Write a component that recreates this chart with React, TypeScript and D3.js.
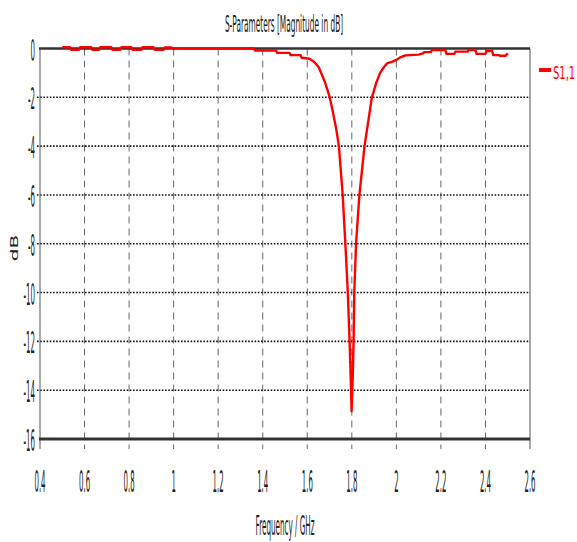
import React from "react";
import * as d3 from "d3";

const xTicks = [0.4, 0.6, 0.8, 1, 1.2, 1.4, 1.6, 1.8, 2, 2.2, 2.4, 2.6];
const yTicks = [0, -2, -4, -6, -8, -10, -12, -14, -16];

const freq = [
  0.5, 0.535, 0.54, 0.575, 0.58, 0.63, 0.635, 0.665, 0.67, 0.72, 0.725, 0.76, 0.765, 0.81,
  0.815, 0.855, 0.86, 0.91, 0.915, 0.955, 0.96, 0.99, 1.0, 1.36, 1.365, 1.46, 1.465, 1.52,
  1.525, 1.57, 1.575, 1.61, 1.63, 1.65, 1.66, 1.68, 1.7, 1.715, 1.73, 1.742, 1.759, 1.771,
  1.782, 1.79, 1.795, 1.799, 1.804, 1.808, 1.811, 1.819, 1.834, 1.857, 1.872, 1.89, 1.91,
  1.927, 1.945, 1.96, 1.98, 2.0, 2.02, 2.04, 2.1, 2.12, 2.125, 2.155, 2.16, 2.22, 2.225,
  2.26, 2.265, 2.32, 2.325, 2.355, 2.36, 2.4, 2.405, 2.43, 2.435, 2.46, 2.465, 2.49, 2.5,
];
const s11 = [
  0.05, 0.05, -0.05, -0.05, 0.05, 0.05, -0.05, -0.05, 0.05, 0.05, -0.05, -0.05, 0.05, 0.05,
  -0.05, -0.05, 0.05, 0.05, -0.05, -0.05, 0.04, 0.04, 0, 0, -0.08, -0.08, -0.18, -0.18,
  -0.27, -0.27, -0.38, -0.42, -0.54, -0.75, -0.95, -1.4, -1.97, -2.6, -3.3, -4, -6, -8,
  -10, -12, -13.5, -14.86, -13.5, -12, -10, -8, -6, -4, -3.1, -2, -1.4,
  -1.0, -0.75, -0.6, -0.55, -0.47, -0.35, -0.28, -0.25, -0.2, -0.15, -0.15, -0.06, -0.06, -0.22,
  -0.22, -0.13, -0.13, -0.06, -0.06, -0.22, -0.22, -0.1, -0.1, -0.27, -0.27, -0.3, -0.3, -0.2,
];

const W = 577;
const H = 542;
const FONT = "DejaVu Sans";

function Label({ x, y, text, sx, sy, anchor = "middle", fill = "#222", rotate = 0 }: any) {
  return (
    <text
      transform={`translate(${x},${y}) rotate(${rotate}) scale(${sx},${sy})`}
      fontSize={10}
      fontFamily={FONT}
      textAnchor={anchor}
      fill={fill}
    >
      {text}
    </text>
  );
}

export default function App() {
  const x = d3.scaleLinear().domain([0.4, 2.6]).range([40, 530]);
  const y = d3.scaleLinear().domain([0, -16]).range([48.5, 439]);
  const pts: [number, number][] = freq.map((f, i) => [f, s11[i]]);
  const line = d3
    .line<[number, number]>()
    .x((d) => x(d[0]))
    .y((d) => y(d[1]));

  return (
    <svg
      width={W}
      height={H}
      style={{ position: "absolute", left: 0, top: 0, background: "#fff" }}
    >
      <rect x={0} y={0} width={W} height={H} fill="#fff" />
      {xTicks.slice(1, -1).map((t) => (
        <line
          key={"vx" + t}
          x1={x(t)}
          x2={x(t)}
          y1={y(0)}
          y2={y(-16) + 10}
          stroke="#666"
          strokeWidth={1}
          strokeDasharray="7,5"
        />
      ))}
      {yTicks.slice(1, -1).map((t) => (
        <line
          key={"hy" + t}
          x1={37}
          x2={x(2.6)}
          y1={y(t)}
          y2={y(t)}
          stroke="#111"
          strokeWidth={1.6}
          strokeDasharray="1.6,1.6"
        />
      ))}
      <line x1={x(0.4)} x2={x(0.4)} y1={y(0)} y2={y(-16) + 10} stroke="#555" strokeWidth={1} />
      <line x1={x(2.6)} x2={x(2.6)} y1={y(0)} y2={y(-16) + 10} stroke="#555" strokeWidth={1} />
      <line x1={x(0.4) - 1} x2={x(2.6)} y1={y(0)} y2={y(0)} stroke="#333" strokeWidth={2.5} />
      <line x1={x(0.4) - 1} x2={x(2.6)} y1={y(-16)} y2={y(-16)} stroke="#333" strokeWidth={3} />
      <path d={line(pts) || ""} fill="none" stroke="#ff0000" strokeWidth={2.4} strokeLinejoin="round" />
      {yTicks.map((t) => (
        <Label key={"yl" + t} x={35} y={y(t) + 12} text={String(t)} sx={0.7} sy={3} anchor="end" />
      ))}
      {xTicks.map((t) => (
        <Label key={"xl" + t} x={x(t)} y={492} text={String(t)} sx={0.7} sy={3.1} />
      ))}
      <Label x={284} y={32} text="S-Parameters [Magnitude in dB]" sx={0.74} sy={2.3} />
      <Label x={285} y={535} text="Frequency / GHz" sx={0.72} sy={2.6} />
      <Label x={18} y={248} text="dB" sx={2.0} sy={1.1} rotate={-90} />
      <line x1={539} x2={551} y1={70} y2={70} stroke="#ff0000" strokeWidth={4} />
      <Label x={553} y={79} text="S1,1" sx={1.0} sy={1.8} anchor="start" fill="#ff0000" />
    </svg>
  );
}
